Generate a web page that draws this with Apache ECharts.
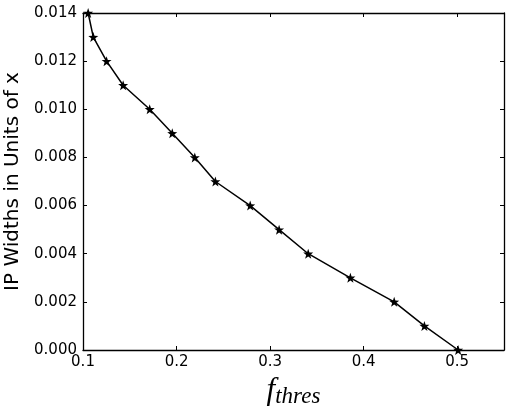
<!DOCTYPE html>
<html><head><meta charset="utf-8">
<script src="https://cdn.jsdelivr.net/npm/echarts@6/dist/echarts.min.js"></script>
<style>html,body{margin:0;padding:0;background:#fff}#c{width:510px;height:411px}</style>
</head><body><div id="c"></div>
<script>
const fThres = [0.1055, 0.111, 0.1252, 0.1429, 0.1713, 0.1954, 0.2195, 0.2415, 0.2787, 0.3096, 0.3407, 0.3858, 0.4326, 0.4649, 0.501];
const ipWidths = [0.014, 0.013, 0.012, 0.011, 0.010, 0.009, 0.008, 0.007, 0.006, 0.005, 0.004, 0.003, 0.002, 0.001, 0.000];
const xTicks = [0.1, 0.2, 0.3, 0.4, 0.5];

const star = 'path://M0,-10 L2.35,-3.24 L9.51,-3.09 L3.8,1.24 L5.88,8.09 L0,4 L-5.88,8.09 L-3.8,1.24 L-9.51,-3.09 L-2.35,-3.24 Z';
const chart = echarts.init(document.getElementById('c'));
const tickStyle = {show:true, inside:true, length:4, lineStyle:{color:'#000', width:1}};
const lineStyle = {show:true, onZero:false, lineStyle:{color:'#000', width:1.3}};
const font = 'DejaVu Sans';
chart.setOption({
  animation:false,
  grid:{left:83, right:6, top:13, bottom:61, containLabel:false, outerBoundsMode:'none'},
  xAxis:[{
    type:'value', min:0.1, max:0.55, interval:0.1, position:'bottom',
    axisLine:lineStyle, axisTick:tickStyle, splitLine:{show:false},
    axisLabel:{color:'#000', fontFamily:font, fontSize:15, margin:5,
      formatter:v => (xTicks.indexOf(Math.round(v*10)/10) >= 0 ? (Math.round(v*10)/10).toFixed(1) : '')},
    name:'{f|f}{s|thres}', nameLocation:'middle', nameGap:17,
    nameTextStyle:{rich:{
      f:{fontFamily:'Liberation Serif', fontStyle:'italic', fontSize:31, color:'#000'},
      s:{fontFamily:'Liberation Serif', fontStyle:'italic', fontSize:23, color:'#000', padding:[14,0,0,0]}
    }}
  },{
    type:'value', min:0.1, max:0.55, interval:0.1, position:'top',
    axisLine:lineStyle, axisTick:tickStyle, axisLabel:{show:false}, splitLine:{show:false}
  }],
  yAxis:[{
    type:'value', min:0, max:0.014, interval:0.002, position:'left',
    axisLine:lineStyle, axisTick:tickStyle, splitLine:{show:false},
    axisLabel:{color:'#000', fontFamily:font, fontSize:15, margin:6, formatter:v => v.toFixed(3)},
    name:'IP Widths in Units of x', nameLocation:'middle', nameGap:54,
    nameTextStyle:{color:'#000', fontFamily:font, fontSize:20}
  },{
    type:'value', min:0, max:0.014, interval:0.002, position:'right',
    axisLine:lineStyle, axisTick:tickStyle, axisLabel:{show:false}, splitLine:{show:false}
  }],
  series:[{
    type:'line', data:fThres.map((x,i)=>[x, ipWidths[i]]),
    symbol:star, symbolSize:10, showAllSymbol:true,
    lineStyle:{color:'#000', width:1.5}, itemStyle:{color:'#000'},
    clip:false
  }]
});
</script></body></html>
